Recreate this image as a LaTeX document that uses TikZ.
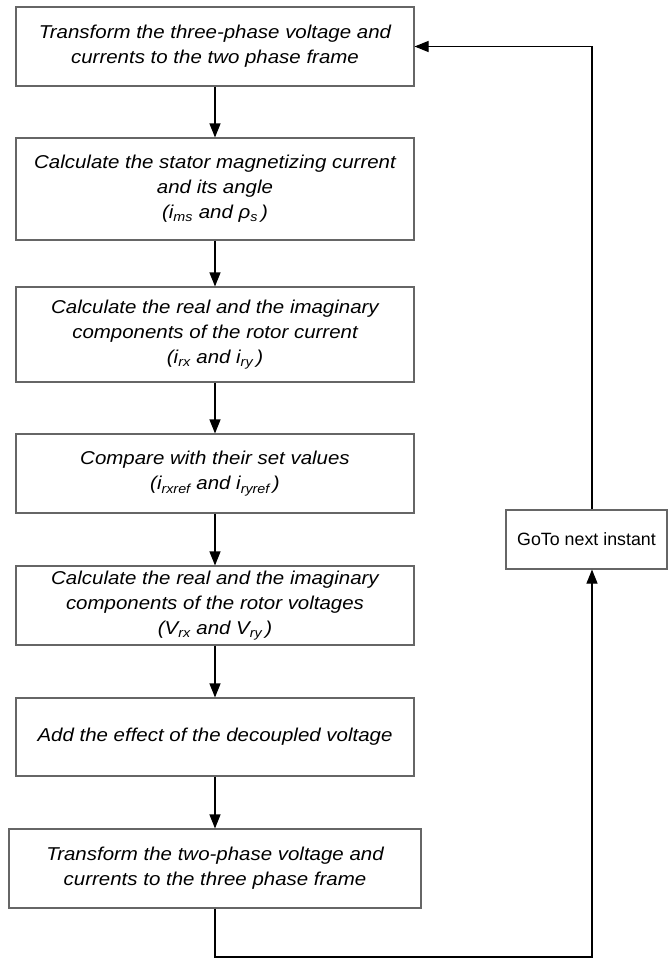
\documentclass[tikz,border=0pt]{standalone}
\usepackage{fontspec}
\setmainfont{Liberation Sans}[ItalicFeatures={FakeStretch=1.1}]
\usetikzlibrary{arrows.meta}

\tikzset{
  stepbox/.style={draw=black!60, line width=1.1pt, rectangle, align=center,
    inner sep=0pt, font=\fontsize{18.6}{25}\selectfont\itshape},
  gobox/.style={draw=black!60, line width=1.1pt, rectangle, align=center,
    inner sep=0pt, font=\fontsize{17.8}{25}\selectfont},
  flow/.style={draw=black, line width=1.1pt, -{Triangle[length=14pt,width=11pt]}}
}

\begin{document}
\begin{tikzpicture}[x=1pt,y=-1pt]
  \useasboundingbox (0,0) rectangle (668,958);

  % main chain of processing steps
  \node[stepbox, minimum width=398pt, minimum height=79pt] (b1) at (215,46.5)
    {Transform the three-phase voltage and\\currents to the two phase frame};
  \node[stepbox, minimum width=398pt, minimum height=102pt] (b2) at (215,189)
    {Calculate the stator magnetizing current\\and its angle\\(i\textsubscript{ms} and ρ\textsubscript{s}\,)};
  \node[stepbox, minimum width=398pt, minimum height=95pt] (b3) at (215,334.5)
    {Calculate the real and the imaginary\\components of the rotor current\\(i\textsubscript{rx} and i\textsubscript{ry}\,)};
  \node[stepbox, minimum width=398pt, minimum height=79pt] (b4) at (215,473.5)
    {Compare with their set values\\(i\textsubscript{rxref} and i\textsubscript{ryref}\,)};
  \node[stepbox, minimum width=398pt, minimum height=79pt] (b5) at (215,605.5)
    {Calculate the real and the imaginary\\components of the rotor voltages\\(V\textsubscript{rx} and V\textsubscript{ry}\,)};
  \node[stepbox, minimum width=398pt, minimum height=78pt] (b6) at (215,737)
    {Add the effect of the decoupled voltage};
  \node[stepbox, minimum width=412pt, minimum height=79pt] (b7) at (215,868.5)
    {Transform the two-phase voltage and\\currents to the three phase frame};

  % loop-back step
  \node[gobox, minimum width=161pt, minimum height=59pt] (go) at (586.5,539.5)
    {GoTo next instant};

  % return path column
  \coordinate (rb) at (592,957);

  \draw[flow] (b1) -- (b2);
  \draw[flow] (b2) -- (b3);
  \draw[flow] (b3) -- (b4);
  \draw[flow] (b4) -- (b5);
  \draw[flow] (b5) -- (b6);
  \draw[flow] (b6) -- (b7);
  \draw[flow] (b7.south) |- (rb) -- (go.south -| rb);
  \draw[flow] (go.north -| rb) |- (b1.east);
\end{tikzpicture}
\end{document}
